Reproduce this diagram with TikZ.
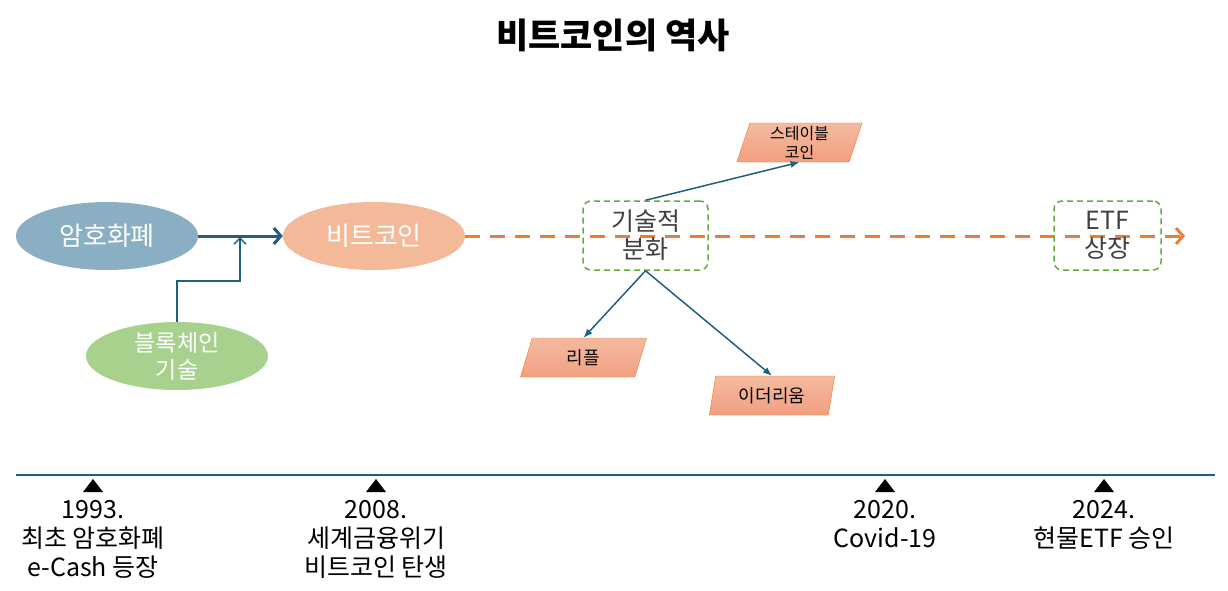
\documentclass[tikz,border=0pt]{standalone}
\usepackage{fontspec}
\setmainfont{Noto Sans CJK KR}
\usetikzlibrary{shapes.geometric,arrows.meta,positioning}
\definecolor{cryptoblue}{RGB}{139,175,194}
\definecolor{coinpeach}{RGB}{244,185,152}
\definecolor{chaingreen}{RGB}{169,209,142}
\definecolor{linkteal}{RGB}{31,96,128}
\definecolor{lineorange}{RGB}{237,125,49}
\definecolor{boxgreen}{RGB}{100,172,60}
\definecolor{darkgrey}{RGB}{64,64,64}
\definecolor{coinlight}{RGB}{245,186,160}
\definecolor{coindark}{RGB}{240,160,128}
\begin{document}
\begin{tikzpicture}[x=1pt,y=-1pt,
  bubble/.style={ellipse,minimum width=182pt,minimum height=68pt,inner sep=0pt,
    text=white,align=center,font=\fontsize{26}{28}\selectfont},
  splitbox/.style={draw=boxgreen,dash pattern=on 6pt off 4pt,line width=1.5pt,
    rounded corners=8pt,minimum height=69pt,inner sep=0pt,text=darkgrey,align=center,
    font=\fontsize{25}{28}\selectfont},
  coinbox/.style={trapezium,trapezium left angle=77,trapezium right angle=103,
    trapezium stretches=true,draw=lineorange,top color=coinlight,bottom color=coindark,
    minimum width=126pt,minimum height=39pt,inner sep=0pt,align=center,
    font=\fontsize{18}{19}\selectfont},
  branch/.style={draw=linkteal,line width=1.5pt,-{Latex[length=9pt,width=7pt]}},
  yearlabel/.style={anchor=north,inner sep=0pt,align=center,font=\fontsize{25}{29}\selectfont}
]
\useasboundingbox (0,0) rectangle (1228,590);

\node[font=\fontsize{35}{40}\selectfont\bfseries] (title) at (613,35) {비트코인의 역사};

% origin of bitcoin
\node[bubble,fill=cryptoblue] (crypto) at (107,236) {암호화폐};
\node[bubble,fill=coinpeach] (coin) at (374,236) {비트코인};
\node[bubble,fill=chaingreen,font=\fontsize{23}{27}\selectfont] (chain) at (177,356) {블록체인\\기술};
\coordinate (join) at (240,237);
\coordinate (future) at (1185,236);

\draw[linkteal,line width=3pt,-{Straight Barb[length=7pt,width=16pt]}] (crypto) -- (coin);
\draw[linkteal,line width=1.5pt,-{Straight Barb[length=6pt,width=12pt]}] (chain.north) -- ++(0,-41) -| (join);
\draw[lineorange,line width=3pt,dash pattern=on 15pt off 10pt,
  -{Straight Barb[length=7pt,width=16pt]}] (coin.east) -- (future);

% branching
\node[splitbox,minimum width=125pt] (split) at (645.5,235.5) {기술적\\분화};
\node[splitbox,minimum width=107pt] (etf) at (1107.5,235.5) {ETF\\상장};
\node[coinbox,font=\fontsize{16}{19}\selectfont] (stable) at (799.5,142.5) {스테이블\\코인};
\node[coinbox] (ripple) at (583.5,357.5) {리플};
\node[coinbox] (ether) at (772,395.5) {이더리움};

\draw[branch] (split.north) -- (stable.south);
\draw[branch] (split.south) -- (ripple.north);
\draw[branch] (split.south) -- (ether.north);

% timeline
\coordinate (tl start) at (16,475);
\coordinate (tl end) at (1215,475);
\draw[linkteal,line width=2pt] (tl start) -- (tl end);
\foreach \x/\name/\txt in {93/y1993/{1993.\\최초 암호화폐\\e-Cash 등장},
    376/y2008/{2008.\\세계금융위기\\비트코인 탄생},
    885/y2020/{2020.\\Covid-19},
    1104/y2024/{2024.\\현물ETF 승인}}{
  \fill (\x,479) -- ++(10,13) -- ++(-20,0) -- cycle;
  \node[yearlabel] (\name) at (\x,500) {\txt};
}
\end{tikzpicture}
\end{document}
